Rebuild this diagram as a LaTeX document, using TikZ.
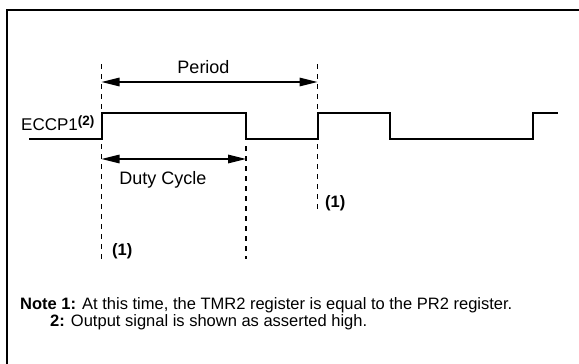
\documentclass[tikz,border=0pt]{standalone}
\usepackage{fontspec}
\setmainfont{Liberation Sans}
\usetikzlibrary{positioning,arrows.meta}

\begin{document}
\begin{tikzpicture}[x=1pt,y=-1pt,
    txt/.style={font=\fontsize{16.5}{19}\selectfont, inner sep=0pt},
    big/.style={font=\fontsize{18}{21}\selectfont, inner sep=0pt},
    wave/.style={line width=2},
    guide/.style={line width=1.3, dash pattern=on 5pt off 5pt},
    span/.style={line width=1.3, {Triangle[length=18pt,width=8.5pt]}-{Triangle[length=18pt,width=8.5pt]}}]
    \useasboundingbox (0,0) rectangle (579,364);
    \draw[line width=2] (7,380) |- (600,10);
    % edges of the waveform
    \coordinate (start) at (29,139);
    \coordinate (r1) at (101.5,113);
    \coordinate [right=144.5pt of r1] (f1);
    \coordinate [right=216pt of r1] (r2);
    \coordinate [right=288.5pt of r1] (f2);
    \coordinate [right=431.5pt of r1] (r3);
    \coordinate [right=456.5pt of r1] (stop);
    \draw[wave] (start) -| (r1) -- (f1) -- (f1 |- start) -| (r2) -- (f2) -- (f2 |- start) -| (r3) -- (stop);
    % guide lines
    \draw[guide] ([yshift=49pt]r1) -- ([yshift=-146pt]r1);
    \draw[guide] ([yshift=-33pt]f1) -- ([yshift=-146pt]f1);
    \draw[guide] ([yshift=49pt]r2) -- ([yshift=-98pt]r2);
    % period and duty cycle
    \draw[span] ([yshift=31pt]r1) -- ([yshift=31pt]r2);
    \draw[span] ([yshift=-46pt]r1) -- ([yshift=-46pt]f1);
    \node[big, anchor=base] (period) at (203.5,73.5) {Period};
    \node[big, anchor=base] (duty) at (163,184.5) {Duty Cycle};
    \node[txt, anchor=base west] (eccp) at (21,130.5) {\fontsize{17}{19}\selectfont ECCP1\raisebox{5.5pt}{\fontsize{13.5}{14}\selectfont\bfseries(2)}};
    \node[txt, anchor=base west] (mark1) at (112,255) {\bfseries(1)};
    \node[txt, anchor=base west] (mark2) at (325,207) {\bfseries(1)};
    % notes
    \node[txt, anchor=base west] (note1) at (20,309) {\textbf{Note 1:} At this time, the TMR2 register is equal to the PR2 register.};
    \node[txt, anchor=base west] (note2) at (50,326) {\textbf{2:} Output signal is shown as asserted high.};
\end{tikzpicture}
\end{document}
